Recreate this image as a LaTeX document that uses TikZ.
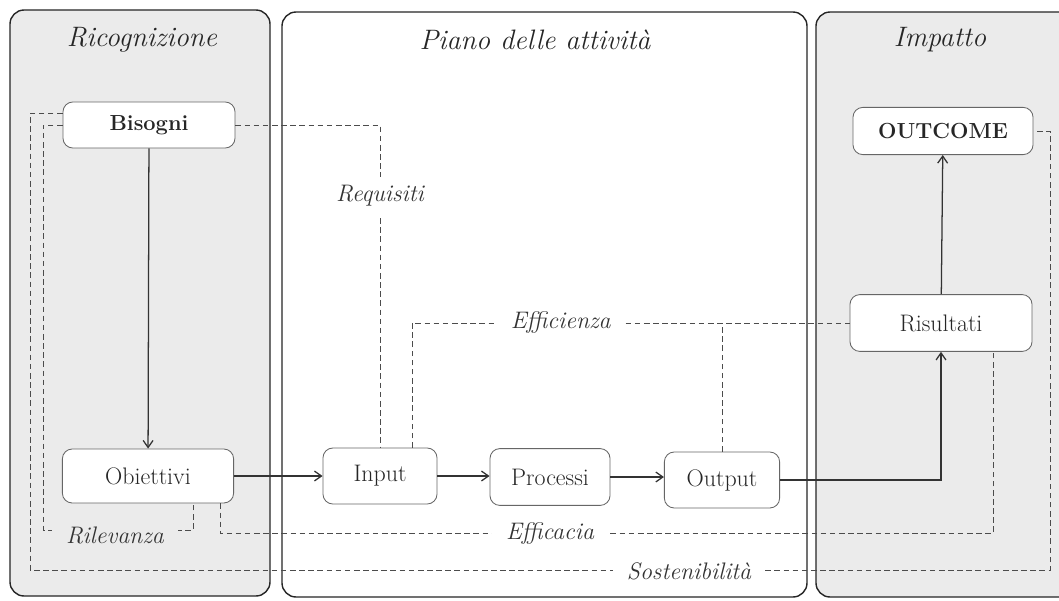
\documentclass[tikz,border=0pt]{standalone}
\usetikzlibrary{arrows.meta}
\tikzset{
  panel/.style={draw=black!85,line width=1pt,rounded corners=10pt},
  blk/.style={draw=black!60,line width=0.6pt,rounded corners=7pt,fill=white,inner sep=0pt,
    text=black!85,font=\fontsize{17}{20}\selectfont},
  blkb/.style={blk,font=\fontsize{15.5}{19}\selectfont\bfseries},
  ttl/.style={text=black!85,font=\fontsize{20}{24}\selectfont\itshape},
  lbl/.style={fill=white,inner xsep=10pt,inner ysep=6pt,text=black!80,
    font=\fontsize{17}{20}\selectfont\itshape},
  sld/.style={draw=black!80,line width=0.9pt,-{Straight Barb[length=5pt,width=7pt]}},
  dsh/.style={draw=black!70,line width=0.6pt,dash pattern=on 4pt off 2.5pt},
}
\begin{document}
\begin{tikzpicture}[x=0.025cm,y=-0.025cm]
	\clip (0,0) rectangle (1059,600);
	\fill [white] (0,0) rectangle (1059,600);
	% the three areas
	\draw [panel,fill=black!8] (10,10) rectangle (270,596);
	\draw [panel,fill=white] (282,12) rectangle (807,597);
	\draw [panel,fill=black!8] (816,12) rectangle (1090,597);
	\node [ttl] (tric) at (142,40) {Ricognizione};
	\node [ttl] (tpia) at (535,40) {Piano delle attività};
	\node [ttl] (timp) at (940,40) {Impatto};
	% boxes
	\node [blkb,minimum width=4.3cm,minimum height=1.15cm] (bisogni) at (149,125) {Bisogni};
	\node [blk,minimum width=4.28cm,minimum height=1.35cm] (obiettivi) at (148,476) {Obiettivi};
	\node [blk,minimum width=2.85cm,minimum height=1.4cm] (input) at (380,476) {Input};
	\node [blk,minimum width=3cm,minimum height=1.42cm] (processi) at (550,477) {Processi};
	\node [blk,minimum width=2.88cm,minimum height=1.4cm] (output) at (722,480) {Output};
	\node [blkb,minimum width=4.5cm,minimum height=1.18cm] (outcome) at (943,131) {OUTCOME};
	\node [blk,minimum width=4.55cm,minimum height=1.42cm] (risultati) at (941,323) {Risultati};
	% main chain
	\draw [sld] (bisogni) -- (obiettivi);
	\draw [sld] (obiettivi) -- (input);
	\draw [sld] (input.east) -- (input.east -| processi.west);
	\draw [sld] (processi.east) -- (processi.east -| output.west);
	\draw [sld] (output.east) -| (risultati.south);
	\draw [sld] (risultati) -- (outcome);
	% indicators
	\draw [dsh] (bisogni.east) -| node [lbl,pos=0.61] (lreq) {Requisiti} (input.north);
	\draw [dsh] ([xshift=0.8cm]input.north) |- node [lbl,pos=0.67] (leff) {Efficienza} (risultati.west);
	\draw [dsh] (output.north) -- (output.north |- risultati.west);
	\coordinate (ril) at (43,530);
	\draw [dsh] (bisogni.west) -| (ril) -| ([xshift=1.125cm]obiettivi.south);
	\node [lbl,fill=black!8] (lril) at (115,535) {Rilevanza};
	\draw [dsh] ([xshift=1.8cm]obiettivi.south) -- ++(0,30) -| ([xshift=1.3cm]risultati.south);
	\node [lbl] (lefc) at (550,534) {Efficacia};
	\coordinate (sosl) at (30,570);
	\coordinate (sosr) at (1050,570);
	\draw [dsh] ([yshift=0.3cm]bisogni.west) -| (sosl) -- (sosr) |- (outcome.east);
	\node [lbl] (lsos) at (689,571) {Sostenibilità};
\end{tikzpicture}
\end{document}
